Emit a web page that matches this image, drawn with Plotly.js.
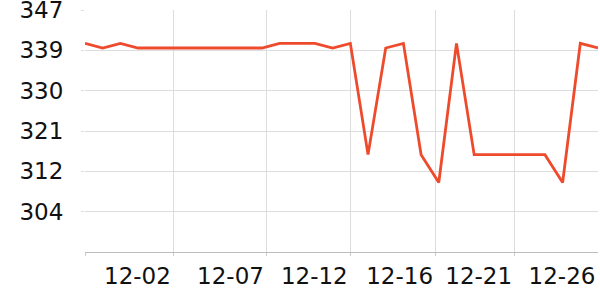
<!DOCTYPE html>
<html>
<head>
<meta charset="utf-8">
<script src="https://cdn.plot.ly/plotly-3.0.1.min.js"></script>
<style>html,body{margin:0;padding:0;background:#fff;}#chart{width:600px;height:300px;}</style>
</head>
<body>
<div id="chart"></div>
<script>
// Series values (one point per sample, evenly spaced)
const values = [340, 339, 340, 339, 339, 339, 339, 339, 339, 339,
                339, 340, 340, 340, 339, 340, 316, 339, 340, 316,
                310, 340, 316, 316, 316, 316, 316, 310, 340, 339];
// X tick labels and their positions along the sample index
const xTickLabels = ['12-02', '12-07', '12-12', '12-16', '12-21', '12-26'];
const xTickPos = [5, 10.26, 15, 19.82, 24.29, 29];
const xGridPos = [0, 5, 10.26, 15, 19.82, 24.29];
// Y axis ticks
const yTickLabels = ['304', '312', '321', '330', '339', '347'];
const yTickVals = [303.7, 312.4, 321.1, 329.8, 338.5, 347.19];
const yRange = [295, 347.2];

const idx = values.map((_, i) => i);

const trace = {
  x: idx, y: values, type: 'scatter', mode: 'lines',
  line: {color: '#ee4a2c', width: 2.8},
  hoverinfo: 'skip', xaxis: 'x', yaxis: 'y'
};

const font = {family: 'DejaVu Sans, sans-serif', size: 23, color: '#111'};
const xr = [0, values.length - 1];
const layout = {
  width: 600, height: 300,
  margin: {l: 85, r: 2, t: 10, b: 48},
  paper_bgcolor: '#fff', plot_bgcolor: '#fff',
  showlegend: false,
  xaxis: {
    range: xr,
    tickmode: 'array', tickvals: xGridPos, ticktext: xGridPos.map(() => ''),
    showgrid: true, gridcolor: '#dddddd', gridwidth: 1,
    zeroline: false,
    showline: true, linecolor: '#bdbdbd', linewidth: 1,
    ticks: 'outside', ticklen: 3, tickcolor: '#cccccc',
    tickfont: font, fixedrange: true
  },
  xaxis2: {
    overlaying: 'x', side: 'bottom', anchor: 'y',
    range: xr,
    tickmode: 'array', tickvals: xTickPos, ticktext: xTickLabels,
    ticklabelshift: -36, ticklabeloverflow: 'allow',
    showgrid: false, zeroline: false, showline: false,
    ticks: 'outside', ticklen: 3, tickcolor: 'rgba(0,0,0,0)',
    tickfont: font, fixedrange: true
  },
  yaxis: {
    range: yRange,
    tickmode: 'array', tickvals: yTickVals, ticktext: yTickLabels,
    showgrid: true, gridcolor: '#dddddd', gridwidth: 1,
    zeroline: false, showline: false,
    ticks: 'outside', ticklen: 3, tickcolor: '#dddddd',
    ticklabelstandoff: 13, ticklabeloverflow: 'allow',
    tickfont: font, fixedrange: true
  }
};

const dummy = {x: [0], y: [null], xaxis: 'x2', yaxis: 'y', type: 'scatter', mode: 'lines', hoverinfo: 'skip'};

Plotly.newPlot('chart', [trace, dummy], layout, {displayModeBar: false, staticPlot: true});
</script>
</body>
</html>
